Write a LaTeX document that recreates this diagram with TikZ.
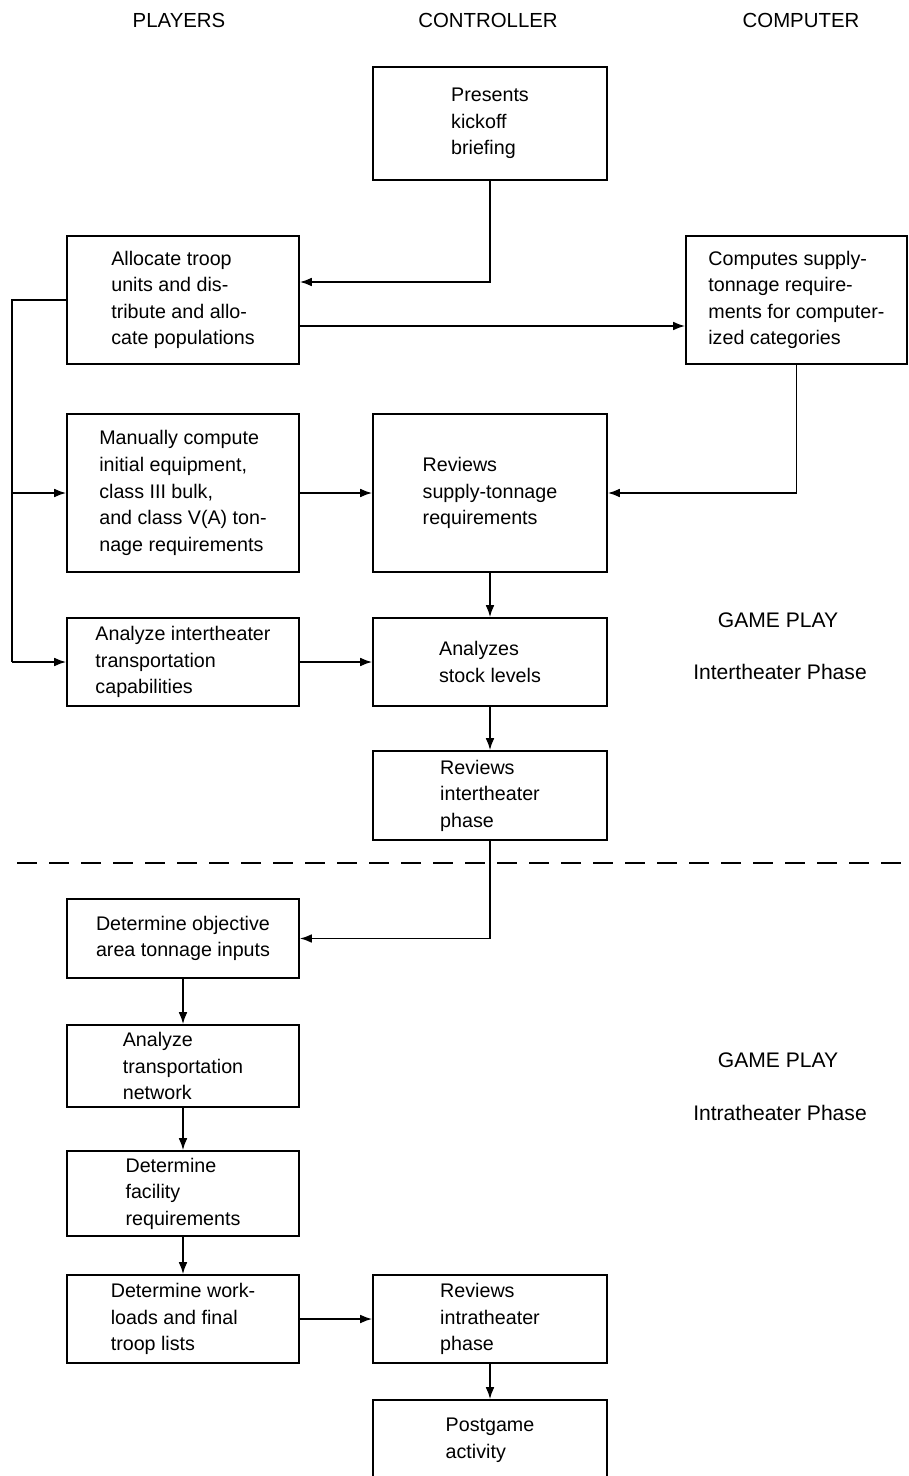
\documentclass[tikz,border=0pt]{standalone}
\usepackage{fontspec}
\setmainfont{Liberation Sans}
\usetikzlibrary{positioning,calc,arrows.meta}

\begin{document}
\begin{tikzpicture}[font=\fontsize{14}{18.9}\selectfont,
        box/.style={draw, line width=1.2pt, align=left, inner sep=0pt},
        lbox/.style={box, minimum width=5.8cm},
        mbox/.style={box, minimum width=5.85cm},
        flow/.style={line width=1.2pt, -{Latex[length=3mm,width=2.2mm]}},
        wire/.style={line width=1.2pt},
        head/.style={font=\fontsize{14.5}{17}\selectfont},
        phase/.style={font=\fontsize{15}{18}\selectfont}]
        \fill[white] (0,0) rectangle (22.725,-36.9);
        \useasboundingbox (0,0) rectangle (22.725,-36.9);
        \clip (0,0) rectangle (22.725,-36.9);

        % Column headings
        \node[head] (hplay) at (4.475,-0.5) {PLAYERS};
        \node[head] (hctrl) at (12.2,-0.5) {CONTROLLER};
        \node[head] (hcomp) at (20.025,-0.5) {COMPUTER};

        % Intertheater phase
        \node[mbox, minimum height=2.825cm] (kick) at (12.25,-3.0875) {Presents\\kickoff\\briefing};
        \node[lbox, minimum height=3.2cm] (alloc) at (4.575,-7.5) {Allocate troop\\units and dis-\\tribute and allo-\\cate populations};
        \node[box, minimum width=5.525cm, minimum height=3.2cm] (comp) at (19.91,-7.5) {Computes supply-\\tonnage require-\\ments for computer-\\ized categories};
        \node[lbox, minimum height=3.95cm] (manual) at (4.575,-12.325) {Manually compute\\initial equipment,\\class III bulk,\\and class V(A) ton-\\nage requirements};
        \node[mbox, minimum height=3.95cm] (revsup) at (12.25,-12.325) {Reviews\\supply-tonnage\\requirements};
        \node[lbox, minimum height=2.2cm] (ainter) at (4.575,-16.55) {Analyze intertheater\\transportation\\capabilities};
        \node[mbox, minimum height=2.2cm] (stock) at (12.25,-16.55) {Analyzes\\stock levels};
        \node[mbox, minimum height=2.225cm] (revint) at (12.25,-19.8875) {Reviews\\intertheater\\phase};

        \node[phase] (gp1) at (19.45,-15.5) {GAME PLAY};
        \node[phase] (ph1) at (19.5,-16.8) {Intertheater Phase};

        % Phase boundary
        \draw[line width=1.3pt, dash pattern=on 5mm off 3mm] (0.425,-21.575) -- (22.725,-21.575);

        % Intratheater phase
        \node[lbox, minimum height=1.975cm] (obj) at (4.575,-23.4625) {Determine objective\\area tonnage inputs};
        \node[lbox, minimum height=2.05cm] (atrans) at (4.575,-26.65) {Analyze\\transportation\\network};
        \node[lbox, minimum height=2.125cm] (facil) at (4.575,-29.8375) {Determine\\facility\\requirements};
        \node[lbox, minimum height=2.2cm] (workl) at (4.575,-32.975) {Determine work-\\loads and final\\troop lists};
        \node[mbox, minimum height=2.2cm] (revintra) at (12.25,-32.975) {Reviews\\intratheater\\phase};
        \node[mbox, minimum height=2.0cm] (post) at (12.25,-36) {Postgame\\activity};

        \node[phase] (gp2) at (19.45,-26.5) {GAME PLAY};
        \node[phase] (ph2) at (19.5,-27.825) {Intratheater Phase};

        % Connections
        \draw[flow] (kick.south) |- ([yshift=4.5mm]alloc.east);
        \draw[flow] ([yshift=-6.5mm]alloc.east) -- ([yshift=-6.5mm]comp.west);
        \draw[flow] (comp.south) |- (revsup.east);
        \draw[wire] (alloc.west) -- ++(-1.35,0) coordinate (bus) -- (bus |- ainter.west);
        \draw[flow] (bus |- manual.west) -- (manual.west);
        \draw[flow] (bus |- ainter.west) -- (ainter.west);
        \draw[flow] (manual.east) -- (revsup.west);
        \draw[flow] (revsup.south) -- (stock.north);
        \draw[flow] (ainter.east) -- (stock.west);
        \draw[flow] (stock.south) -- (revint.north);
        \draw[flow] (revint.south) |- (obj.east);
        \draw[flow] (obj.south) -- (atrans.north);
        \draw[flow] (atrans.south) -- (facil.north);
        \draw[flow] (facil.south) -- (workl.north);
        \draw[flow] (workl.east) -- (revintra.west);
        \draw[flow] (revintra.south) -- (post.north);
    \end{tikzpicture}
\end{document}
